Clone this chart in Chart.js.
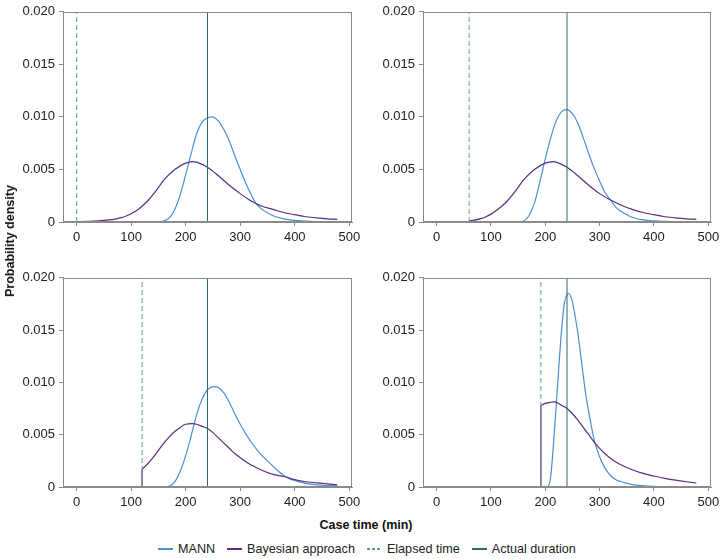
<!DOCTYPE html>
<html>
<head>
<meta charset="utf-8">
<script src="https://cdn.jsdelivr.net/npm/chart.js@4.4.1/dist/chart.umd.min.js"></script>
<style>
    body { margin: 0; background: #fff; font-family: "Liberation Sans", Arial, sans-serif; }
    #wrap { position: relative; width: 722px; height: 559px; overflow: hidden; }
    canvas { position: absolute; }
    .title { position: absolute; font-weight: bold; font-size: 12.5px; color: #111; white-space: nowrap; }
    #ytitle { left: 10px; top: 241px; transform: translate(-50%, -50%) rotate(-90deg); }
    #xtitle { left: 366px; top: 525px; transform: translate(-50%, -50%); }
    #legend { position: absolute; left: 158px; top: 542px; display: flex; align-items: center; font-size: 12.6px; color: #222; }
    .item { display: flex; align-items: center; margin-right: 12px; white-space: nowrap; }
    .swatch { width: 15px; height: 1.5px; margin-right: 5px; }
</style>
</head>
<body>
<div id="wrap">
    <canvas id="js--chart--1" width="353" height="246" style="left:13px;top:0px"></canvas>
    <canvas id="js--chart--2" width="352" height="246" style="left:373px;top:0px"></canvas>
    <canvas id="js--chart--3" width="353" height="245" style="left:13px;top:266px"></canvas>
    <canvas id="js--chart--4" width="352" height="245" style="left:373px;top:266px"></canvas>
    <div class="title" id="ytitle">Probability density</div>
    <div class="title" id="xtitle">Case time (min)</div>
    <div id="legend"></div>
</div>
<script>
// ticks
const xTicks = [0, 100, 200, 300, 400, 500];
const yTicks = [0, 0.005, 0.010, 0.015, 0.020];

const seriesNames = ['MANN', 'Bayesian approach', 'Elapsed time', 'Actual duration'];

// elapsed time and actual duration per panel (min)
const elapsedTime = [0, 60, 120, 192];
const actualDuration = [240, 240, 240, 240];

// [case time, density]
const mann1 = [[0,0],[140,0],[150,0.00003],[160,0.0001],[170,0.0004],[180,0.0012],[190,0.0026],[200,0.0045],[210,0.0065],[220,0.0084],[230,0.0095],[240,0.0099],[248,0.0100],[260,0.0096],[270,0.0088],[280,0.0077],[290,0.0063],[300,0.0050],[310,0.0037],[320,0.0026],[330,0.0017],[340,0.0012],[360,0.0006],[380,0.0003],[400,0.00015],[420,0.00008],[440,0.00004],[460,0.00002],[478,0.00001]];
const bayes1 = [[0,0.00002],[20,0.00005],[40,0.0001],[60,0.0002],[70,0.00028],[80,0.0004],[90,0.00055],[100,0.00078],[110,0.0011],[120,0.0015],[130,0.0020],[140,0.0026],[150,0.0033],[160,0.0040],[180,0.0050],[200,0.0056],[212,0.00575],[220,0.0057],[240,0.0052],[260,0.0044],[280,0.0035],[300,0.0027],[320,0.0020],[340,0.0015],[360,0.0012],[380,0.0009],[400,0.0007],[420,0.0005],[440,0.0004],[460,0.0003],[478,0.00025]];

const mann2 = [[0,0],[140,0],[150,0.00002],[160,0.0001],[170,0.0006],[180,0.0018],[190,0.0038],[200,0.0060],[210,0.0080],[220,0.0096],[230,0.0105],[240,0.0107],[250,0.0103],[260,0.0094],[270,0.0080],[280,0.0065],[290,0.0051],[300,0.0039],[310,0.0028],[320,0.0021],[330,0.0014],[340,0.0010],[350,0.0007],[360,0.00045],[380,0.0002],[400,0.0001],[420,0.00005],[440,0.00002],[460,0.00001],[478,0]];
const bayes2 = [[0,0],[59.9,0],[60,0.0001],[70,0.00018],[80,0.0003],[90,0.00048],[100,0.00075],[110,0.0011],[120,0.0015],[130,0.0020],[140,0.0026],[150,0.0033],[160,0.0040],[180,0.0050],[200,0.0056],[214,0.00575],[220,0.0057],[240,0.0052],[260,0.0044],[280,0.0035],[300,0.0027],[320,0.0021],[340,0.0016],[360,0.0012],[380,0.0009],[400,0.0007],[420,0.0005],[440,0.0004],[460,0.0003],[478,0.00025]];

const mann3 = [[0,0],[150,0],[160,0.00003],[170,0.0001],[180,0.0005],[190,0.0015],[200,0.0030],[210,0.0049],[220,0.0069],[230,0.0084],[240,0.0093],[252,0.0096],[260,0.0095],[270,0.0090],[280,0.0081],[290,0.0070],[300,0.0060],[310,0.0051],[320,0.0043],[330,0.0036],[340,0.0030],[350,0.0025],[360,0.0020],[370,0.0015],[380,0.0011],[390,0.0008],[400,0.0006],[420,0.00035],[440,0.0002],[460,0.00013],[478,0.0001]];
const bayes3 = [[0,0],[119.9,0],[120,0.0017],[130,0.0022],[140,0.0028],[150,0.0035],[160,0.0042],[170,0.0048],[180,0.0053],[190,0.0057],[200,0.0060],[212,0.00605],[220,0.0060],[230,0.0058],[240,0.0056],[250,0.0052],[260,0.0047],[270,0.0042],[280,0.0037],[290,0.0032],[300,0.0028],[320,0.0021],[340,0.0016],[360,0.0012],[380,0.0010],[400,0.0007],[420,0.0005],[440,0.0004],[460,0.0003],[478,0.0002]];

const mann4 = [[0,0],[200,0],[205,0.00005],[210,0.0010],[215,0.0040],[220,0.0077],[225,0.0115],[230,0.0150],[235,0.0175],[240,0.0184],[243,0.0185],[250,0.0177],[255,0.0163],[260,0.0147],[265,0.0127],[270,0.0106],[275,0.0087],[280,0.0072],[290,0.0045],[300,0.0029],[310,0.0018],[320,0.0011],[330,0.0007],[340,0.0005],[350,0.00035],[370,0.00015],[390,0.00008],[420,0.00003],[450,0.00001],[478,0]];
const bayes4 = [[0,0],[191.9,0],[192,0.0078],[200,0.0080],[210,0.0081],[217,0.00813],[230,0.0078],[240,0.0075],[250,0.0070],[260,0.0064],[270,0.0057],[280,0.0050],[290,0.0043],[300,0.0037],[310,0.00318],[320,0.00275],[330,0.0024],[340,0.0021],[360,0.00165],[380,0.0013],[400,0.00105],[420,0.00083],[440,0.00065],[460,0.0005],[478,0.00038]];

const mannData = [mann1, mann2, mann3, mann4];
const bayesData = [bayes1, bayes2, bayes3, bayes4];

const colors = ['#4a8fd8', '#5a2d82', '#6a9696', '#2c6b6b'];
const axisGrey = '#8a8a8a';
const font = { family: '"Liberation Sans", Arial, sans-serif', size: 13 };

// draws the box round the plot
const frame = {
    id: 'frame',
    afterDraw(chart) {
        const a = chart.chartArea;
        const c = chart.ctx;
        c.save();
        c.strokeStyle = axisGrey;
        c.lineWidth = 1;
        c.strokeRect(Math.round(a.left) + 0.5, Math.round(a.top) + 0.5, Math.round(a.right - a.left) - 1, Math.round(a.bottom - a.top) - 1);
        c.restore();
    }
};

function toPoints(arr) {
    return arr.map(p => ({ x: p[0], y: p[1] }));
}

function vline(x) {
    return [{ x: x, y: 0 }, { x: x, y: 0.02 }];
}

// split a truncated curve into the flat part + jump, and the smooth part
function splitAtJump(arr) {
    for (let j = 1; j < arr.length; j++) {
        if (arr[j][0] - arr[j - 1][0] < 1) {
            return { flat: arr.slice(0, j + 1), curve: arr.slice(j) };
        }
    }
    return { flat: [], curve: arr };
}

for (let i = 0; i < 4; i++) {
    const ctx = document.getElementById('js--chart--' + (i + 1));
    const bayes = splitAtJump(bayesData[i]);
    new Chart(ctx, {
        type: 'line',
        data: {
            datasets: [{
                label: seriesNames[0],
                data: toPoints(mannData[i]),
                borderColor: colors[0],
                borderWidth: 1.2,
                cubicInterpolationMode: 'monotone',
                order: 4
            }, {
                label: seriesNames[1],
                data: toPoints(bayes.curve),
                borderColor: colors[1],
                borderWidth: 1.2,
                cubicInterpolationMode: 'monotone',
                order: 3
            }, {
                label: seriesNames[1],
                data: toPoints(bayes.flat),
                borderColor: colors[1],
                borderWidth: 1.2,
                tension: 0,
                order: 2
            }, {
                label: seriesNames[2],
                data: vline(elapsedTime[i]),
                borderColor: colors[2],
                borderWidth: 1,
                borderDash: [5, 3],
                order: 1
            }, {
                label: seriesNames[3],
                data: vline(actualDuration[i]),
                borderColor: colors[3],
                borderWidth: 1,
                order: 0
            }]
        },
        options: {
            responsive: false,
            animation: false,
            devicePixelRatio: 1,
            layout: { padding: { top: 7, right: 14, left: 0, bottom: 0 } },
            elements: { point: { radius: 0 } },
            plugins: { legend: { display: false }, tooltip: { enabled: false } },
            scales: {
                x: {
                    type: 'linear',
                    min: -25,
                    max: 505,
                    afterBuildTicks: s => { s.ticks = xTicks.map(v => ({ value: v })); },
                    afterFit: s => { s.height = 24; },
                    grid: { drawOnChartArea: false, color: axisGrey, tickLength: 4 },
                    border: { color: axisGrey },
                    ticks: { color: '#222', font: font, padding: 4, maxRotation: 0 }
                },
                y: {
                    min: 0,
                    max: 0.02,
                    afterBuildTicks: s => { s.ticks = yTicks.map(v => ({ value: v })); },
                    afterFit: s => { s.width = 50; },
                    grid: { drawOnChartArea: false, color: axisGrey, tickLength: 4 },
                    border: { color: axisGrey },
                    ticks: {
                        color: '#222',
                        font: font,
                        padding: 4,
                        callback: v => v === 0 ? '0' : v.toFixed(3)
                    }
                }
            }
        },
        plugins: [frame]
    });
}

// shared legend under the panels
const legend = document.getElementById('legend');
seriesNames.forEach((name, k) => {
    const item = document.createElement('div');
    item.className = 'item';
    const sw = document.createElement('span');
    sw.className = 'swatch';
    if (k === 2) {
        sw.style.background = `repeating-linear-gradient(90deg, ${colors[k]} 0 3px, transparent 3px 5px)`;
    } else {
        sw.style.background = colors[k];
    }
    const txt = document.createElement('span');
    txt.textContent = name;
    item.appendChild(sw);
    item.appendChild(txt);
    legend.appendChild(item);
});
</script>
</body>
</html>
